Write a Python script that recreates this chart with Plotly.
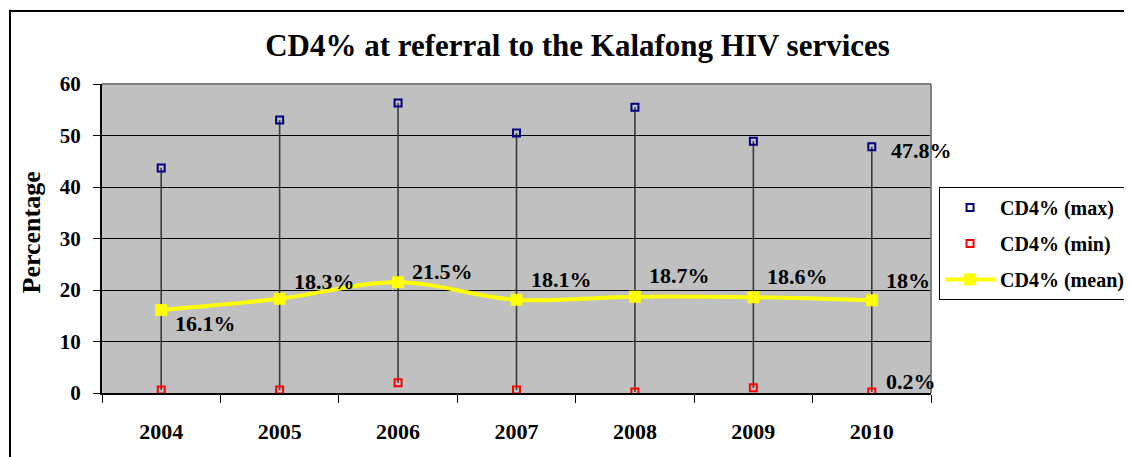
import plotly.graph_objects as go

years = ["2004", "2005", "2006", "2007", "2008", "2009", "2010"]
cd4_max = [43.7, 53.0, 56.3, 50.5, 55.5, 48.9, 47.8]
cd4_min = [0.6, 0.6, 2.0, 0.6, 0.2, 1.0, 0.2]
cd4_mean = [16.1, 18.3, 21.5, 18.1, 18.7, 18.6, 18.0]
mean_labels = ["16.1%", "18.3%", "21.5%", "18.1%", "18.7%", "18.6%", "18%"]
y_ticks = [0, 10, 20, 30, 40, 50, 60]

# label placement (pixels, style only)
label_dy = [-13, 17, 11, 20, 21, 21, 20]

FONT = "'Liberation Serif', 'Times New Roman', 'DejaVu Serif', serif"

fig = go.Figure()

# high-low lines
hx, hy = [], []
for yr, lo, hi in zip(years, cd4_min, cd4_max):
    hx += [yr, yr, None]
    hy += [lo, hi, None]
fig.add_trace(go.Scatter(x=hx, y=hy, mode="lines", line=dict(color="#3a3a3a", width=1.6),
                         showlegend=False, hoverinfo="skip"))

fig.add_trace(go.Scatter(x=years, y=cd4_max, mode="markers", name="CD4% (max)", legendgroup="a",
                         marker=dict(symbol="square-open", size=7, color="#000080",
                                     line=dict(width=2, color="#000080"))))
fig.add_trace(go.Scatter(x=years, y=cd4_min, mode="markers", name="CD4% (min)", legendgroup="b",
                         marker=dict(symbol="square-open", size=7, color="#FF0000",
                                     line=dict(width=2, color="#FF0000"))))
fig.add_trace(go.Scatter(x=years, y=cd4_mean, mode="lines+markers", name="CD4% (mean)", legendgroup="c",
                         line=dict(color="#FFFF00", width=4, shape="spline", smoothing=1),
                         marker=dict(symbol="square", size=12, color="#FFFF00")))

LABFONT = dict(family=FONT, size=22, color="black", weight="bold")
annotations = []
for i, (v, lab) in enumerate(zip(cd4_mean, mean_labels)):
    annotations.append(dict(x=i, y=v, text=lab, showarrow=False, xanchor="left", yanchor="middle",
                            xshift=12, yshift=label_dy[i], font=LABFONT))
last = len(years) - 1
annotations.append(dict(x=last, y=cd4_max[last], text="%.1f%%" % cd4_max[last], showarrow=False,
                        xanchor="left", yanchor="middle", xshift=17, yshift=-4, font=LABFONT))
annotations.append(dict(x=last, y=cd4_min[last], text="%.1f%%" % cd4_min[last], showarrow=False,
                        xanchor="left", yanchor="middle", xshift=12, yshift=10, font=LABFONT))
annotations.append(dict(xref="paper", yref="paper", x=-0.085, y=0.518, text="Percentage", textangle=-90,
                        showarrow=False, xanchor="center", yanchor="middle",
                        font=dict(family=FONT, size=26, color="black", weight="bold")))

shapes = [
    dict(type="line", xref="paper", yref="paper", x0=-0.111, x1=-0.111, y0=-0.4, y1=1.24,
         line=dict(color="black", width=2), layer="above"),
    dict(type="line", xref="paper", yref="paper", x0=-0.112, x1=1.4, y0=1.236, y1=1.236,
         line=dict(color="black", width=2), layer="above"),
    dict(type="line", xref="paper", yref="paper", x0=0, x1=1, y0=1, y1=1,
         line=dict(color="#808080", width=2), layer="above"),
    dict(type="line", xref="paper", yref="paper", x0=1, x1=1, y0=0, y1=1,
         line=dict(color="#808080", width=2), layer="above"),
]

fig.update_layout(
    width=1124, height=449,
    margin=dict(l=94, r=201, t=76, b=64, autoexpand=False),
    paper_bgcolor="white", plot_bgcolor="#C0C0C0",
    title=dict(text="CD4% at referral to the Kalafong HIV services", x=0.5067, xanchor="center",
               y=0.9176, yanchor="middle",
               font=dict(family=FONT, size=31, color="black", weight="bold")),
    font=dict(family=FONT, color="black"),
    showlegend=True,
    legend=dict(x=1.0097, y=0.667, xanchor="left", yanchor="top", bgcolor="white",
                bordercolor="black", borderwidth=1, tracegroupgap=7, itemwidth=50,
                font=dict(family=FONT, size=20, color="black", weight="bold")),
    xaxis=dict(type="category", categoryorder="array", categoryarray=years, range=[-0.5, 6.5],
               tickson="boundaries", ticks="outside", ticklen=8, tickwidth=1, tickcolor="black",
               showline=True, linecolor="black", linewidth=2, showgrid=False, zeroline=False,
               ticklabelstandoff=18,
               tickfont=dict(family=FONT, size=22, color="black", weight="bold")),
    yaxis=dict(range=[0, 60], tickvals=y_ticks, ticks="outside", ticklen=7, tickwidth=1, tickcolor="black",
               showline=True, linecolor="black", linewidth=2, showgrid=True, gridcolor="black",
               gridwidth=1, zeroline=False, ticklabelstandoff=8,
               tickfont=dict(family=FONT, size=21, color="black", weight="bold")),
    annotations=annotations, shapes=shapes,
)

fig.write_html("out.html")
